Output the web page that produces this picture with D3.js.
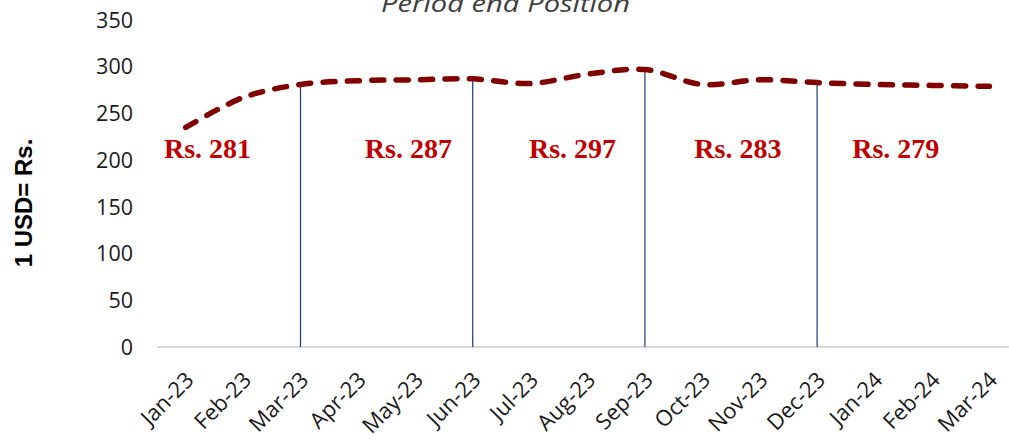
<!DOCTYPE html>
<html>
<head>
<meta charset="utf-8">
<script src="https://cdn.jsdelivr.net/npm/d3@7"></script>
<style>
  body { margin: 0; background: #fff; }
  svg { display: block; }
  .tick-text { font-family: 'Open Sans', sans-serif; font-size: 21.5px; fill: #1a1a1a; }
  .x-label { font-size: 22px; }
  .y-title { font-family: 'Liberation Sans', Arial, sans-serif; font-weight: bold; font-size: 24px; fill: #000; }
  .chart-title { font-family: 'Open Sans', sans-serif; font-style: italic; font-size: 24px; fill: #404040; }
  .rs-label { font-family: 'Liberation Serif', 'Times New Roman', serif; font-weight: bold; font-size: 28px; fill: #c00000; }
</style>
</head>
<body>
<div id="chart"></div>
<script>
// data
var months = ['Jan-23', 'Feb-23', 'Mar-23', 'Apr-23', 'May-23', 'Jun-23', 'Jul-23', 'Aug-23',
              'Sep-23', 'Oct-23', 'Nov-23', 'Dec-23', 'Jan-24', 'Feb-24', 'Mar-24'];
var rate = [235, 267, 281, 285, 286, 287, 282, 292, 297, 281, 286, 283, 281, 280, 279];
var quarterEnds = ['Mar-23', 'Jun-23', 'Sep-23', 'Dec-23', 'Mar-24'];
var dropMonths = ['Mar-23', 'Jun-23', 'Sep-23', 'Dec-23'];
var yTicks = [0, 50, 100, 150, 200, 250, 300, 350];

// where each "Rs." note sits, in months left of its quarter end
var noteShift = [1.62, 1.12, 1.26, 1.38, 1.63];

var width = 1009, height = 441;
var margin = { top: 20, left: 157, right: -9, bottom: 94 };

var svg = d3.select('#chart')
    .append('svg')
    .attr('width', width)
    .attr('height', height);

var x = d3.scaleBand()
    .domain(months)
    .range([margin.left, width - margin.right]);

var xi = d3.scaleLinear()
    .domain([0, months.length - 1])
    .range([x(months[0]) + x.bandwidth() / 2, x(months[months.length - 1]) + x.bandwidth() / 2]);

var y = d3.scaleLinear()
    .domain([0, 350])
    .range([height - margin.bottom, margin.top]);

// title (cut at the top like the source)
svg.append('text')
    .attr('class', 'chart-title')
    .attr('x', 381)
    .attr('y', 12)
    .attr('textLength', 249)
    .attr('lengthAdjust', 'spacingAndGlyphs')
    .text('Period end Position');

// y axis labels
svg.selectAll('.y-label')
    .data(yTicks)
    .enter().append('text')
    .attr('class', 'tick-text y-label')
    .attr('x', 133)
    .attr('y', function(d) { return y(d); })
    .attr('dy', '0.36em')
    .attr('text-anchor', 'end')
    .text(function(d) { return d; });

svg.append('text')
    .attr('class', 'y-title')
    .attr('transform', 'translate(32,' + 203 + ') rotate(-90)')
    .attr('text-anchor', 'middle')
    .text('1 USD= Rs.');

// baseline
svg.append('line')
    .attr('x1', margin.left)
    .attr('x2', width)
    .attr('y1', y(0))
    .attr('y2', y(0))
    .style('stroke', '#d9d9d9')
    .style('stroke-width', 2);

// x labels
svg.selectAll('.x-label')
    .data(months)
    .enter().append('text')
    .attr('class', 'tick-text x-label')
    .attr('text-anchor', 'end')
    .attr('transform', function(d) {
        return 'translate(' + (x(d) + x.bandwidth() / 2 + 4) + ',' + (y(0) + 29) + ') rotate(-45)';
    })
    .attr('dy', '0.35em')
    .text(function(d) { return d; });

// drop lines at quarter ends
svg.selectAll('.drop')
    .data(dropMonths)
    .enter().append('line')
    .attr('class', 'drop')
    .attr('x1', function(d) { return x(d) + x.bandwidth() / 2; })
    .attr('x2', function(d) { return x(d) + x.bandwidth() / 2; })
    .attr('y1', y(0))
    .attr('y2', function(d) { return y(rate[months.indexOf(d)]) + 2; })
    .style('stroke', '#1f3a78')
    .style('stroke-width', 1.2);

// rate line
var line = d3.line()
    .x(function(d, i) { return xi(i); })
    .y(function(d) { return y(d); })
    .curve(d3.curveCatmullRom.alpha(0.5));

svg.append('path')
    .datum(rate)
    .attr('d', line)
    .style('fill', 'none')
    .style('stroke', '#800000')
    .style('stroke-width', 5.5)
    .style('stroke-linecap', 'round')
    .style('stroke-dasharray', '12 12.4');

// quarter notes
svg.selectAll('.rs-label')
    .data(quarterEnds)
    .enter().append('text')
    .attr('class', 'rs-label')
    .attr('x', function(d, i) { return xi(months.indexOf(d) - noteShift[i]); })
    .attr('y', 158)
    .attr('text-anchor', 'middle')
    .text(function(d) { return 'Rs. ' + rate[months.indexOf(d)]; });
</script>
</body>
</html>
